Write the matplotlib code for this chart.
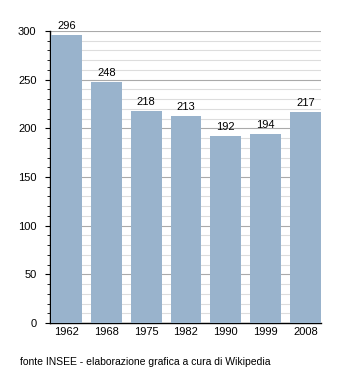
import matplotlib
matplotlib.use('Agg')
import matplotlib.pyplot as plt
from matplotlib.ticker import MultipleLocator

# popolazione per anno di censimento
anni = ['1962', '1968', '1975', '1982', '1990', '1999', '2008']
abitanti = [296, 248, 218, 213, 192, 194, 217]

plt.rcParams['font.family'] = ['Liberation Sans', 'DejaVu Sans']

fig = plt.figure(figsize=(3.5, 3.73), dpi=100)
ax = fig.add_axes([50/350, 1-323/373, 271/350, 292/373])

w = 0.775
x = list(range(len(anni)))
bars = ax.bar(x, abitanti, width=w, align='edge', color='#99b3cc', zorder=3)
for xi, v in zip(x, abitanti):
    ax.text(xi + w/2, v + 4, str(v), ha='center', va='bottom', fontsize=8, zorder=4)

ax.set_xlim(-0.025, 6.775)
ax.set_ylim(0, 300)
ax.set_xticks([xi + w/2 for xi in x])
ax.set_xticklabels(anni)
ax.yaxis.set_major_locator(MultipleLocator(50))
ax.yaxis.set_minor_locator(MultipleLocator(10))
ax.grid(axis='y', which='major', color='#aaaaaa', lw=0.8, zorder=1)
ax.grid(axis='y', which='minor', color='#dddddd', lw=0.8, zorder=0)
ax.tick_params(axis='x', length=0, labelsize=8, pad=3)
ax.tick_params(axis='y', which='major', length=3.75, labelsize=8, pad=6)
ax.tick_params(axis='y', which='minor', length=2.25)
for s in ['top', 'right']:
    ax.spines[s].set_visible(False)
ax.spines['left'].set_linewidth(1)
ax.spines['bottom'].set_linewidth(1)

fig.text(20/350, 1-362/373, 'fonte INSEE - elaborazione grafica a cura di Wikipedia',
         fontsize=7.5, va='center', ha='left')

fig.savefig('out.png', dpi=100)
